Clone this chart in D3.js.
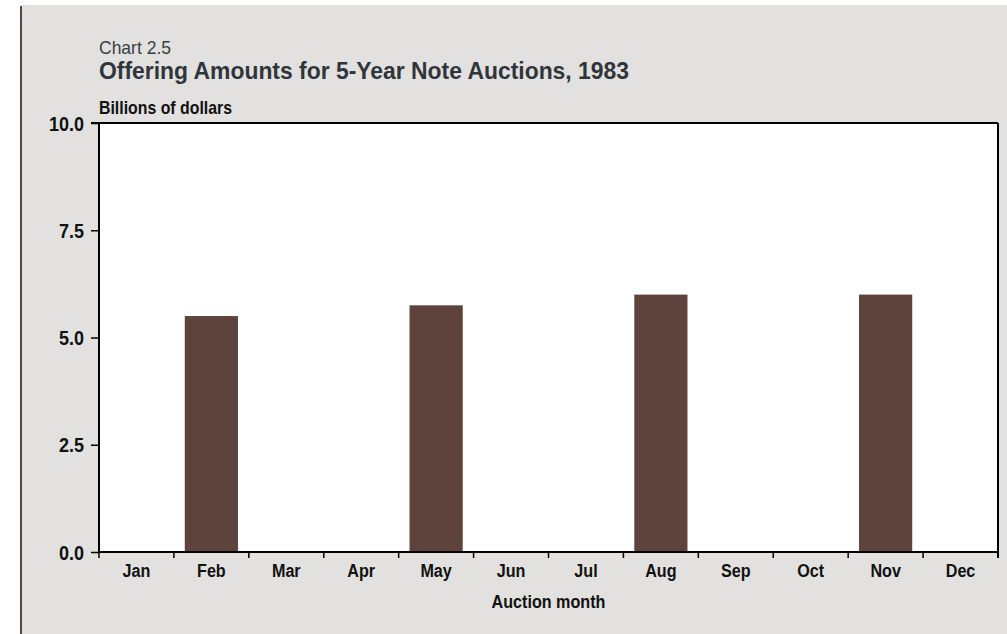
<!DOCTYPE html>
<html>
<head>
<meta charset="utf-8">
<script src="https://cdn.jsdelivr.net/npm/d3@7"></script>
<style>
  body { margin: 0; background: #fff; }
  svg { display: block; }
  text { font-family: "Liberation Sans", Arial, sans-serif; }
</style>
</head>
<body>
<script>
const width = 1007, height = 634;

// Data
const months = ['Jan', 'Feb', 'Mar', 'Apr', 'May', 'Jun', 'Jul', 'Aug', 'Sep', 'Oct', 'Nov', 'Dec'];
const offering = [0, 5.5, 0, 0, 5.75, 0, 0, 6.0, 0, 0, 6.0, 0];
const yTicks = [0, 2.5, 5, 7.5, 10];

const margin = {left: 99, right: 9, top: 123, bottom: 82};
const squeeze = 0.85; // condensed look for axis text

const svg = d3.select('body').append('svg')
    .attr('width', width)
    .attr('height', height);

// panel background + left rule
svg.append('rect').attr('x', 21).attr('y', 5).attr('width', width - 21).attr('height', height - 5).attr('fill', '#e2e1df');
svg.append('line').attr('x1', 21).attr('x2', 21).attr('y1', 6).attr('y2', height)
    .attr('stroke', '#5a4640').attr('stroke-width', 2);

const x = d3.scaleBand()
    .domain(months)
    .range([margin.left, width - margin.right])
    .paddingInner(0.29)
    .paddingOuter(0.145);

const y = d3.scaleLinear()
    .domain([0, 10])
    .range([height - margin.bottom, margin.top]);

// plot area
svg.append('rect')
    .attr('x', margin.left).attr('y', margin.top)
    .attr('width', width - margin.right - margin.left)
    .attr('height', height - margin.bottom - margin.top)
    .attr('fill', '#fff');

// bars
svg.append('g').selectAll('rect')
    .data(months.map((m, i) => ({m, v: offering[i]})).filter(d => d.v > 0))
    .join('rect')
    .attr('x', d => x(d.m))
    .attr('width', x.bandwidth())
    .attr('y', d => y(d.v))
    .attr('height', d => y(0) - y(d.v))
    .attr('fill', '#5d433b');

// frame: top and right
svg.append('line')
    .attr('x1', margin.left - 8).attr('x2', width - margin.right)
    .attr('y1', margin.top).attr('y2', margin.top)
    .attr('stroke', '#000').attr('stroke-width', 2);
svg.append('line')
    .attr('x1', width - margin.right).attr('x2', width - margin.right)
    .attr('y1', margin.top).attr('y2', height - margin.bottom + 6)
    .attr('stroke', '#000').attr('stroke-width', 2);

// y axis
const yAxis = svg.append('g')
    .attr('transform', `translate(${margin.left},0)`)
    .call(d3.axisLeft(y).tickValues(yTicks).tickFormat(d3.format('.1f')).tickSize(8));
yAxis.select('.domain').attr('stroke-width', 2).attr('d', `M0,${margin.top}V${height - margin.bottom}`);
yAxis.selectAll('.tick line').attr('stroke-width', 1.5);
yAxis.selectAll('.tick text')
    .attr('font-size', 20).attr('fill', '#111')
    .attr('font-family', '"Liberation Sans", Arial, sans-serif')
    .attr('font-weight', 'bold')
    .attr('x', -15 / 0.9)
    .attr('dy', '0.36em')
    .attr('transform', 'scale(0.9,1)');

// x axis: ticks at band boundaries
const bounds = months.map(m => x(m) - x.step() * x.paddingInner() / 2);
bounds.push(width - margin.right);
const xg = svg.append('g').attr('transform', `translate(0,${height - margin.bottom})`);
xg.append('line').attr('x1', margin.left).attr('x2', width - margin.right)
    .attr('stroke', '#000').attr('stroke-width', 2);
xg.selectAll('line.tk').data(bounds).join('line').attr('class', 'tk')
    .attr('x1', d => d).attr('x2', d => d).attr('y1', 0).attr('y2', 6)
    .attr('stroke', '#000').attr('stroke-width', 1.5);
xg.selectAll('text').data(months).join('text')
    .attr('transform', d => `translate(${x(d) + x.bandwidth() / 2},25) scale(${squeeze},1)`)
    .attr('text-anchor', 'middle')
    .attr('font-size', 19).attr('font-weight', 'bold').attr('fill', '#111')
    .text(d => d);

svg.append('text')
    .attr('transform', `translate(${(margin.left + width - margin.right) / 2},${height - margin.bottom + 56}) scale(${squeeze},1)`)
    .attr('text-anchor', 'middle')
    .attr('font-size', 19).attr('font-weight', 'bold').attr('fill', '#111')
    .text('Auction month');

// titles
svg.append('text').attr('x', 99).attr('y', 54)
    .attr('font-size', 19).attr('fill', '#3a3f45')
    .attr('textLength', 72).attr('lengthAdjust', 'spacingAndGlyphs')
    .text('Chart 2.5');
svg.append('text').attr('x', 99).attr('y', 79)
    .attr('font-size', 24).attr('font-weight', 'bold').attr('fill', '#30353b')
    .attr('textLength', 530).attr('lengthAdjust', 'spacingAndGlyphs')
    .text('Offering Amounts for 5-Year Note Auctions, 1983');
svg.append('text').attr('x', 99).attr('y', 114)
    .attr('font-size', 19).attr('font-weight', 'bold').attr('fill', '#111')
    .attr('textLength', 133).attr('lengthAdjust', 'spacingAndGlyphs')
    .text('Billions of dollars');
</script>
</body>
</html>
